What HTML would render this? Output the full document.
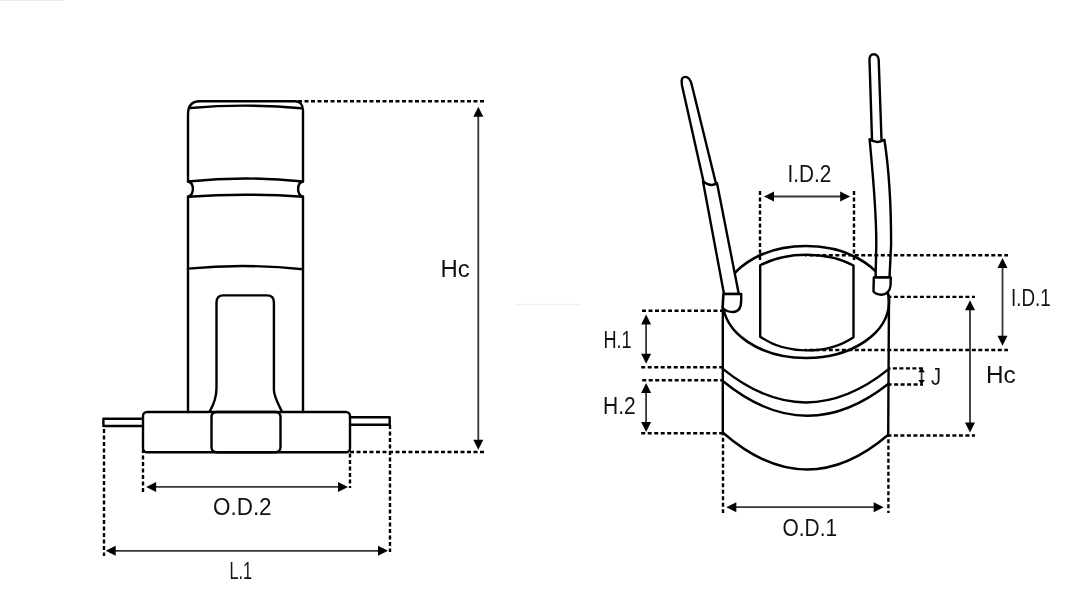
<!DOCTYPE html>
<html><head><meta charset="utf-8"><style>
html,body{margin:0;padding:0;background:#fff;}
body{width:1080px;height:607px;overflow:hidden;}
svg{display:block;}
.s{fill:none;stroke:#000;stroke-width:2.4;stroke-linejoin:round;stroke-linecap:round;}
.sf{fill:#fff;stroke:#000;stroke-width:2.4;stroke-linejoin:round;stroke-linecap:round;}
.d{fill:none;stroke:#000;stroke-width:2.4;stroke-dasharray:4 2.5;}
.a{stroke:#353535;stroke-width:1.8;}
.h{fill:#000;stroke:none;}
text{font-family:"Liberation Sans",sans-serif;fill:#111;}
svg{will-change:transform;}
</style></head><body>
<svg width="1080" height="607" viewBox="0 0 1080 607">
<path class="s" d="M188,412 L188,196.6 C194.5,195 194.5,183 188,181.5 L188,114.5 C188,106 192,101.2 199.5,101.2 L295,101.2 C300,101.2 303,105 303,110.5 L303,181.5 C296.5,183 296.5,195 303,196.6 L303,412"/>
<path class="s" d="M190.5,108 Q245.5,103.2 301,108.2"/>
<path class="s" d="M188,181.5 Q245.5,175.5 303,181.5"/>
<path class="s" d="M188,196.7 Q245.5,192.7 303,196.7"/>
<path class="s" d="M188,268.6 Q245.5,263.2 303,269.2"/>
<path class="s" d="M209.5,411.8 C213.5,405 216.5,398 216.5,388 L216.5,302.5 Q216.5,295.4 223.5,295.4 L267,295.4 Q273.9,295.4 273.9,302.5 L273.9,390 C274,397 279,405 282,411.8"/>
<path class="s" d="M143,418.7 L103.4,418.7 L103.4,426 L143,426"/>
<path class="s" d="M350,417.2 L389.7,417.2 L389.7,424.7 L350,424.7"/>
<rect class="s" x="143" y="412" width="207" height="40.3" rx="4" ry="4"/>
<rect class="s" x="211.5" y="412" width="69" height="40.3" rx="5" ry="5"/>
<line x1="298" y1="101.2" x2="484" y2="101.2" class="d" stroke-dashoffset="0"/>
<line x1="350" y1="452" x2="484" y2="452" class="d" stroke-dashoffset="0"/>
<line x1="104" y1="426" x2="104" y2="556" class="d" stroke-dashoffset="3.5"/>
<line x1="143" y1="449.5" x2="143" y2="492" class="d" stroke-dashoffset="0.5"/>
<line x1="350" y1="452" x2="350" y2="488" class="d" stroke-dashoffset="5.1"/>
<line x1="390" y1="425" x2="390" y2="552" class="d" stroke-dashoffset="0"/>
<line x1="478.3" y1="115.8" x2="478.3" y2="440.7" class="a"/>
<polygon points="478.3,106.8 473.3,116.8 483.3,116.8" class="h"/>
<polygon points="478.3,449.7 473.3,439.7 483.3,439.7" class="h"/>
<line x1="155.1" y1="486.9" x2="339" y2="486.9" class="a"/>
<polygon points="146.1,486.9 156.1,481.9 156.1,491.9" class="h"/>
<polygon points="348,486.9 338,481.9 338,491.9" class="h"/>
<line x1="114.7" y1="550.8" x2="379" y2="550.8" class="a"/>
<polygon points="105.7,550.8 115.7,545.8 115.7,555.8" class="h"/>
<polygon points="388,550.8 378,545.8 378,555.8" class="h"/>
<text id="t_HcL" x="440.50" y="276.50" font-size="23.30" textLength="29.27" lengthAdjust="spacingAndGlyphs">Hc</text>
<text id="t_O_D_2" x="213.00" y="515.00" font-size="23.30" textLength="58.60" lengthAdjust="spacingAndGlyphs">O.D.2</text>
<text id="t_L_1" x="229.50" y="579.00" font-size="23.30" textLength="22.66" lengthAdjust="spacingAndGlyphs">L.1</text>
<ellipse class="s" cx="806" cy="302" rx="83" ry="56" style="stroke-width:2.7"/>
<path class="s" d="M760.2,336.7 L760.2,265.2 A73,46 0 0 1 853.5,265.5 L853.5,337.2 A66,46 0 0 1 760.2,336.7"/>
<path class="s" d="M722.8,306 L722.8,433.3"/>
<path class="s" d="M889,296 L888.2,435.3"/>
<path class="s" d="M722.8,368.9 Q806,435.9 889,368.9"/>
<path class="s" d="M722.8,381 Q806,449.3 888.8,383.5"/>
<path class="s" d="M723.3,433 Q806,505 888,435"/>
<path class="s" d="M703.5,181.5 L681.9,85 C680.8,79 682.5,77 685,76.9 C688,76.8 690.5,79.5 691.8,85 L715.7,182.5"/>
<path class="sf" d="M703,181.5 Q711,187.5 717,183 L738.8,294 L724,294 Z"/>
<path class="sf" d="M723.5,294 L741.2,294 L741.2,300 C741.2,308 738,312 733,312 C729,312 725,310.5 722.7,308 Z"/>
<path class="s" d="M872,139.5 L869.5,60 C869.3,56 871.5,54.2 873.6,54.2 C876.5,54.2 878.6,56.5 878.7,60 L881.5,140"/>
<path class="sf" d="M869.6,139.3 Q877,144.5 884.4,139.8 C887.5,160 891.2,200 891.1,245 L889.5,277.5 L875.6,277.5 L876.3,245 C876.5,210 872,165 869.6,139.3 Z"/>
<path class="sf" d="M873.8,277.5 L890.8,277.5 L890.5,286 C890,291 886,295 881.5,294.8 C877.5,294.6 874.5,293 873.5,291.4 Z"/>
<line x1="760" y1="191" x2="760" y2="262" class="d" stroke-dashoffset="0"/>
<line x1="854" y1="191" x2="854" y2="262" class="d" stroke-dashoffset="0"/>
<line x1="805" y1="255.3" x2="1008" y2="255.3" class="d" stroke-dashoffset="2.2"/>
<line x1="805" y1="350" x2="1008" y2="350" class="d" stroke-dashoffset="2.2"/>
<line x1="889" y1="296.9" x2="975" y2="296.9" class="d" stroke-dashoffset="1.6"/>
<line x1="888" y1="435.5" x2="975" y2="435.5" class="d" stroke-dashoffset="0.6"/>
<line x1="889" y1="368.4" x2="923" y2="368.4" class="d" stroke-dashoffset="2.6"/>
<line x1="889" y1="384.5" x2="923" y2="384.5" class="d" stroke-dashoffset="1.4"/>
<line x1="642" y1="310.8" x2="723" y2="310.8" class="d" stroke-dashoffset="0"/>
<line x1="641.2" y1="367.2" x2="723" y2="367.2" class="d" stroke-dashoffset="0"/>
<line x1="642.2" y1="380.3" x2="723" y2="380.3" class="d" stroke-dashoffset="0"/>
<line x1="641.2" y1="433.2" x2="723" y2="433.2" class="d" stroke-dashoffset="0"/>
<line x1="723" y1="433" x2="723" y2="513" class="d" stroke-dashoffset="1.7"/>
<line x1="888.4" y1="435" x2="888.4" y2="513" class="d" stroke-dashoffset="2.3"/>
<line x1="773" y1="196.5" x2="841.2" y2="196.5" class="a"/>
<polygon points="764,196.5 774,191.5 774,201.5" class="h"/>
<polygon points="850.2,196.5 840.2,191.5 840.2,201.5" class="h"/>
<line x1="1002.5" y1="267" x2="1002.5" y2="336.7" class="a"/>
<polygon points="1002.5,258 997.5,268 1007.5,268" class="h"/>
<polygon points="1002.5,345.7 997.5,335.7 1007.5,335.7" class="h"/>
<line x1="970" y1="309.2" x2="970" y2="423.6" class="a"/>
<polygon points="970,300.2 965.0,310.2 975.0,310.2" class="h"/>
<polygon points="970,432.6 965.0,422.6 975.0,422.6" class="h"/>
<line x1="921.6" y1="371.2" x2="921.6" y2="381.1" class="a"/>
<polygon points="921.6,367.7 918.35,372.2 924.85,372.2" class="h"/>
<polygon points="921.6,384.6 918.35,380.1 924.85,380.1" class="h"/>
<line x1="646.1" y1="323.4" x2="646.1" y2="354.8" class="a"/>
<polygon points="646.1,314.4 641.1,324.4 651.1,324.4" class="h"/>
<polygon points="646.1,363.8 641.1,353.8 651.1,353.8" class="h"/>
<line x1="646.1" y1="392" x2="646.1" y2="423" class="a"/>
<polygon points="646.1,383 641.1,393 651.1,393" class="h"/>
<polygon points="646.1,432 641.1,422 651.1,422" class="h"/>
<line x1="735.3" y1="507.2" x2="874.7" y2="507.2" class="a"/>
<polygon points="726.3,507.2 736.3,502.2 736.3,512.2" class="h"/>
<polygon points="883.7,507.2 873.7,502.2 873.7,512.2" class="h"/>
<text id="t_I_D_2" x="787.50" y="182.00" font-size="23.30" textLength="43.71" lengthAdjust="spacingAndGlyphs">I.D.2</text>
<text id="t_I_D_1" x="1011.00" y="306.00" font-size="23.30" textLength="39.74" lengthAdjust="spacingAndGlyphs">I.D.1</text>
<text id="t_HcR" x="986.00" y="382.50" font-size="23.30" textLength="29.74" lengthAdjust="spacingAndGlyphs">Hc</text>
<text id="t_J" x="931.00" y="385.00" font-size="23.30" textLength="10.07" lengthAdjust="spacingAndGlyphs">J</text>
<text id="t_H_1" x="603.50" y="347.50" font-size="23.30" textLength="28.18" lengthAdjust="spacingAndGlyphs">H.1</text>
<text id="t_H_2" x="603.00" y="413.50" font-size="23.30" textLength="32.72" lengthAdjust="spacingAndGlyphs">H.2</text>
<text id="t_O_D_1" x="782.50" y="535.50" font-size="23.30" textLength="54.57" lengthAdjust="spacingAndGlyphs">O.D.1</text>
<line x1="515.7" y1="304.4" x2="580" y2="304.4" stroke="#ececec" stroke-width="1"/>
<line x1="0" y1="0.5" x2="64" y2="0.5" stroke="#ececec" stroke-width="1"/>
</svg>
</body></html>
